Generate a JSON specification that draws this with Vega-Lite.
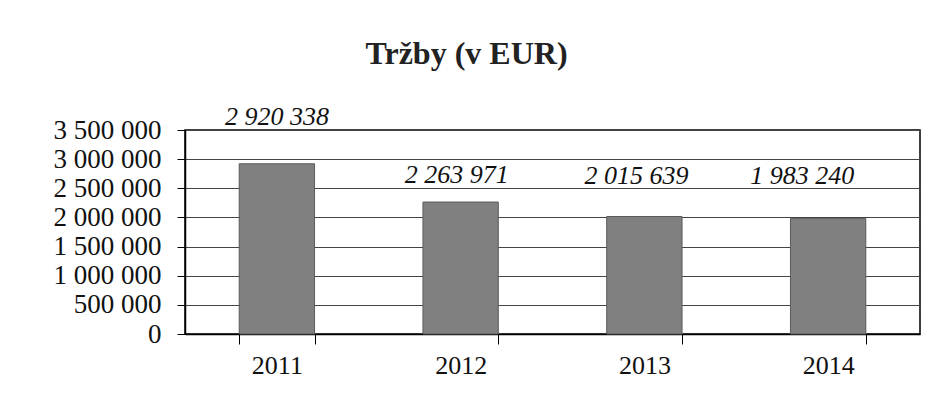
{
  "$schema": "https://vega.github.io/schema/vega-lite/v6.json",
  "width": 735,
  "height": 204,
  "autosize": {"type": "none"},
  "padding": {"left": 185, "top": 130, "right": 15, "bottom": 84},
  "background": "white",
  "title": {
    "text": "Tržby (v EUR)",
    "font": "Liberation Serif",
    "fontSize": 32,
    "fontWeight": "bold",
    "color": "#222222",
    "anchor": "middle",
    "frame": "group",
    "dx": -86,
    "offset": 33
  },
  "data": {
    "values": [
      {"rok": "2011", "trzby": 2920338},
      {"rok": "2012", "trzby": 2263971},
      {"rok": "2013", "trzby": 2015639},
      {"rok": "2014", "trzby": 1983240}
    ]
  },
  "encoding": {
    "x": {
      "field": "rok",
      "type": "ordinal",
      "title": null,
      "scale": {"paddingInner": 0.59},
      "axis": {
        "labelAngle": 0,
        "labelFont": "Liberation Serif",
        "labelFontSize": 26,
        "labelColor": "#111111",
        "labelPadding": 8,
        "tickBand": "extent",
        "tickSize": 10,
        "tickColor": "#000000",
        "domainColor": "#000000",
        "domainWidth": 1.5,
        "grid": false
      }
    },
    "y": {
      "field": "trzby",
      "type": "quantitative",
      "title": null,
      "scale": {"domain": [0, 3500000], "nice": false},
      "axis": {
        "values": [0, 500000, 1000000, 1500000, 2000000, 2500000, 3000000, 3500000],
        "format": ",d",
        "labelFont": "Liberation Serif",
        "labelFontSize": 27,
        "labelColor": "#111111",
        "labelPadding": 16,
        "tickSize": 8,
        "tickColor": "#000000",
        "domainColor": "#000000",
        "domainWidth": 1.5,
        "gridColor": "#444444",
        "gridWidth": 1
      }
    }
  },
  "layer": [
    {
      "mark": {"type": "bar", "color": "#808080", "stroke": "#5a5a5a", "strokeWidth": 1}
    },
    {
      "transform": [{"filter": "datum.rok == '2011'"}],
      "mark": {"type": "text", "font": "Liberation Serif", "fontSize": 26, "fontStyle": "italic", "color": "#111111", "baseline": "alphabetic", "dy": -39},
      "encoding": {"text": {"field": "trzby", "type": "quantitative", "format": ",d"}}
    },
    {
      "transform": [{"filter": "datum.rok == '2012'"}],
      "mark": {"type": "text", "font": "Liberation Serif", "fontSize": 26, "fontStyle": "italic", "color": "#111111", "baseline": "alphabetic", "dy": -19, "dx": -4},
      "encoding": {"text": {"field": "trzby", "type": "quantitative", "format": ",d"}}
    },
    {
      "transform": [{"filter": "datum.rok == '2013'"}],
      "mark": {"type": "text", "font": "Liberation Serif", "fontSize": 26, "fontStyle": "italic", "color": "#111111", "baseline": "alphabetic", "dy": -33, "dx": -8},
      "encoding": {"text": {"field": "trzby", "type": "quantitative", "format": ",d"}}
    },
    {
      "transform": [{"filter": "datum.rok == '2014'"}],
      "mark": {"type": "text", "font": "Liberation Serif", "fontSize": 26, "fontStyle": "italic", "color": "#111111", "baseline": "alphabetic", "dy": -34, "dx": -26},
      "encoding": {"text": {"field": "trzby", "type": "quantitative", "format": ",d"}}
    }
  ],
  "config": {
    "locale": {
      "number": {"decimal": ",", "thousands": " ", "grouping": [3], "currency": ["", " €"]}
    },
    "view": {"stroke": "#000000", "strokeWidth": 1.5}
  }
}
